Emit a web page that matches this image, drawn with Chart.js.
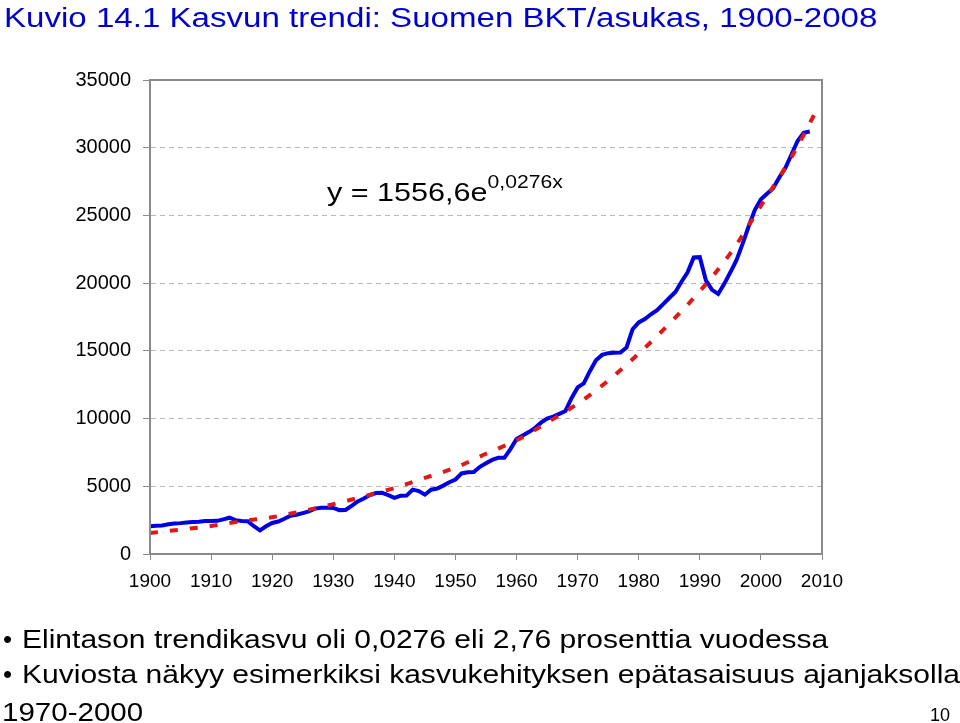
<!DOCTYPE html>
<html>
<head>
<meta charset="utf-8">
<script src="https://cdn.jsdelivr.net/npm/chart.js@4.4.0/dist/chart.umd.min.js"></script>
<style>
  body { margin: 0; background: #fff; width: 960px; height: 723px; overflow: hidden; position: relative; font-family: "Liberation Sans", Arial, sans-serif; }
  #wrap { position: absolute; left: 0; top: 0; width: 960px; height: 723px; }
  .txt { position: absolute; white-space: nowrap; line-height: 1; transform-origin: 0 0; }
  #title { left: 4px; top: 5px; font-size: 27px; color: #0000CC; transform: scaleX(1.225); }
  #eq { left: 327px; top: 179px; font-size: 26px; color: #000; transform: scaleX(1.175); }
  #eq sup { font-size: 18px; position: relative; top: -6px; vertical-align: top; }
  .bul { font-size: 26px; color: #000; left: 22px; transform: scaleX(1.155); }
  .dot { font-size: 26px; color: #000; left: 3px; }
  #d1, #b1 { top: 626px; }
  #d2, #b2 { top: 661px; }
  #b3 { top: 699px; left: 2px; transform: scaleX(1.135); }
  #pg { left: 930px; top: 706px; font-size: 18px; color: #000; }
</style>
</head>
<body>
<div id="wrap"><canvas id="myChart" width="960" height="723"></canvas></div>
<div class="txt" id="title">Kuvio 14.1 Kasvun trendi: Suomen BKT/asukas, 1900-2008</div>
<div class="txt" id="eq">y = 1556,6e<sup>0,0276x</sup></div>
<div class="txt dot" id="d1">•</div>
<div class="txt bul" id="b1">Elintason trendikasvu oli 0,0276 eli 2,76 prosenttia vuodessa</div>
<div class="txt dot" id="d2">•</div>
<div class="txt bul" id="b2">Kuviosta näkyy esimerkiksi kasvukehityksen epätasaisuus ajanjaksolla</div>
<div class="txt bul" id="b3">1970-2000</div>
<div class="txt" id="pg">10</div>
<script>
// BKT/asukas, vuodet 1900-2008 (luettu kuvasta)
var firstYear = 1900;
var gdp = [
    2040, 2080, 2100, 2200, 2250, 2280, 2330, 2360, 2380, 2430,
    2440, 2450, 2560, 2680, 2500, 2440, 2420, 2050, 1740, 2050,
    2290, 2400, 2600, 2830, 2900, 3020, 3150, 3350, 3420, 3420,
    3400, 3240, 3250, 3550, 3880, 4100, 4350, 4500, 4520, 4350,
    4150, 4300, 4310, 4750, 4650, 4380, 4750, 4830, 5050, 5300,
    5500, 5950, 6040, 6050, 6440, 6700, 6950, 7100, 7100, 7750,
    8500, 8750, 9000, 9300, 9700, 10000, 10150, 10350, 10560, 11500,
    12300, 12600, 13500, 14300, 14700, 14830, 14860, 14880, 15250, 16600,
    17100, 17350, 17700, 18000, 18450, 18900, 19350, 20100, 20800, 21900,
    21920, 20200, 19500, 19200, 19950, 20800, 21700, 22900, 24200, 25400,
    26200, 26600, 27000, 27800, 28500, 29500, 30500, 31100, 31200
];

// trendikäyrä (eksponentiaalinen), luettu kuvasta
var trendYears = [1900, 1905, 1910, 1915, 1920, 1925, 1930, 1935, 1940, 1945, 1950,
                  1955, 1960, 1965, 1970, 1975, 1980, 1985, 1990, 1995, 2000, 2005, 2009.5];
var trendValues = [1550, 1800, 2070, 2420, 2720, 3170, 3680, 4250, 4870, 5620, 6380,
                   7400, 8400, 9700, 11100, 12800, 14800, 17000, 19400, 22200, 25700, 29300, 33100];

var xTicks = [1900, 1910, 1920, 1930, 1940, 1950, 1960, 1970, 1980, 1990, 2000, 2010];
var yTicks = [0, 5000, 10000, 15000, 20000, 25000, 30000, 35000];

var gdpPoints = [];
for (var i = 0; i < gdp.length; i++) {
    gdpPoints.push({x: firstYear + i, y: gdp[i]});
}
var trendPoints = [];
for (var j = 0; j < trendYears.length; j++) {
    trendPoints.push({x: trendYears[j], y: trendValues[j]});
}

// kehys piirtoalueen ympärille
var frame = {
    id: 'frame',
    afterDatasetsDraw: function (chart) {
        var a = chart.chartArea;
        var ctx = chart.ctx;
        ctx.save();
        ctx.strokeStyle = '#8a8a8a';
        ctx.lineWidth = 2;
        ctx.strokeRect(a.left, a.top, a.right - a.left, a.bottom - a.top);
        ctx.restore();
    }
};

Chart.defaults.font.family = '"Liberation Sans", Arial, sans-serif';
Chart.defaults.color = '#000';

var ctx = document.getElementById('myChart').getContext('2d');
var chart = new Chart(ctx, {
    type: 'line',
    data: {
        datasets: [{
            label: 'trendi',
            data: trendPoints,
            borderColor: '#E01818',
            borderWidth: 4,
            borderDash: [8, 12],
            pointRadius: 0,
            cubicInterpolationMode: 'monotone',
            fill: false
        }, {
            label: 'BKT/asukas',
            data: gdpPoints,
            borderColor: '#0000E0',
            borderWidth: 4,
            pointRadius: 0,
            tension: 0,
            fill: false
        }]
    },
    options: {
        responsive: false,
        animation: false,
        layout: { padding: { left: 0, top: 80, right: 138, bottom: 124 } },
        plugins: { legend: { display: false }, tooltip: { enabled: false } },
        scales: {
            x: {
                type: 'linear',
                min: 1900,
                max: 2010,
                afterBuildTicks: function (s) { s.ticks = xTicks.map(function (v) { return {value: v}; }); },
                afterFit: function (s) { s.height = 45; },
                ticks: { font: { size: 19 }, padding: 10, maxRotation: 0, autoSkip: false,
                         callback: function (v) { return String(v); } },
                grid: { drawOnChartArea: false, tickLength: 6, tickColor: '#8a8a8a', tickWidth: 1 },
                border: { color: '#8a8a8a', width: 2 }
            },
            y: {
                min: 0,
                max: 35000,
                afterBuildTicks: function (s) { s.ticks = yTicks.map(function (v) { return {value: v}; }); },
                afterFit: function (s) { s.width = 150; },
                ticks: { font: { size: 20 }, padding: 12, callback: function (v) { return String(v); } },
                grid: { color: '#b8b8b8', lineWidth: 1, tickLength: 7, tickColor: '#8a8a8a', tickBorderDash: [] },
                border: { color: '#8a8a8a', width: 2, dash: [5, 4] }
            }
        }
    },
    plugins: [frame]
});
</script>
</body>
</html>
